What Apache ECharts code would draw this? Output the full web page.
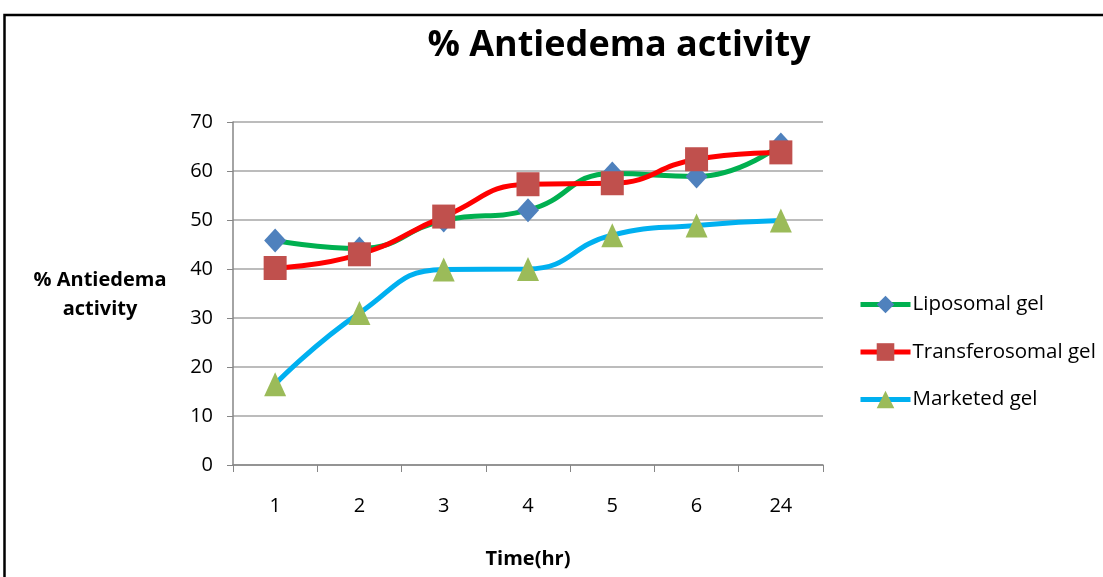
<!DOCTYPE html>
<html>
<head>
<meta charset="utf-8">
<script src="https://cdn.jsdelivr.net/npm/echarts@6/dist/echarts.min.js"></script>
<style>
  html, body { margin: 0; padding: 0; background: #fff; }
  #chart { width: 1103px; height: 577px; }
</style>
</head>
<body>
<div id="chart"></div>
<script>
// Time points (hours) and % antiedema activity for each gel formulation
const timeLabels = ['1', '2', '3', '4', '5', '6', '24'];
const liposomalGel = [45.8, 44.2, 49.9, 52.0, 59.5, 58.9, 65.4];
const transferosomalGel = [40.2, 43.0, 50.7, 57.3, 57.5, 62.4, 63.8];
const marketedGel = [16.5, 31.0, 39.9, 40.0, 46.9, 48.9, 49.9];
const yTicks = { min: 0, max: 70, interval: 10 };

const FONT = '"Open Sans", "DejaVu Sans", sans-serif';
const GRID_COLOR = '#a6a6a6';
const AXIS_COLOR = '#868686';

function lineSeries(name, data, lineColor, symbol, symbolColor, size) {
  return {
    name: name,
    type: 'line',
    data: data,
    smooth: 0.5,
    symbol: symbol,
    symbolSize: size,
    showAllSymbol: true,
    lineStyle: { color: lineColor, width: 5 },
    itemStyle: { color: symbolColor, borderWidth: 0 },
    emphasis: { disabled: true },
    animation: false
  };
}

const chart = echarts.init(document.getElementById('chart'), null, { renderer: 'canvas' });

chart.setOption({
  backgroundColor: '#ffffff',
  animation: false,
  grid: { left: 233, right: 280, top: 122, bottom: 112, containLabel: false },
  graphic: [
    {
      type: 'rect',
      shape: { x: 4.5, y: 15, width: 1110, height: 600 },
      style: { fill: 'none', stroke: '#000', lineWidth: 2.5 },
      silent: true
    },
    {
      type: 'text',
      x: 619, y: 46,
      style: {
        text: '% Antiedema activity',
        font: 'bold 36px ' + FONT,
        fill: '#000',
        align: 'center', verticalAlign: 'middle',
        textAlign: 'center', textVerticalAlign: 'middle'
      },
      silent: true
    },
    {
      type: 'text',
      x: 100, y: 295,
      style: {
        text: '% Antiedema\nactivity',
        font: 'bold 20px ' + FONT,
        lineHeight: 29,
        fill: '#000',
        align: 'center', verticalAlign: 'middle',
        textAlign: 'center', textVerticalAlign: 'middle'
      },
      silent: true
    }
  ],
  legend: {
    orient: 'vertical',
    left: 858,
    top: 294,
    padding: 0,
    itemWidth: 50,
    itemHeight: 22,
    itemGap: 26.5,
    selectedMode: false,
    lineStyle: { width: 5 },
    textStyle: { fontFamily: FONT, fontSize: 20.5, color: '#000', padding: [0, 0, 0, -3] },
    data: ['Liposomal gel', 'Transferosomal gel', 'Marketed gel']
  },
  xAxis: {
    type: 'category',
    data: timeLabels,
    boundaryGap: true,
    name: 'Time(hr)',
    nameLocation: 'middle',
    nameGap: 84,
    nameTextStyle: { fontFamily: FONT, fontSize: 20, fontWeight: 'bold', color: '#000' },
    axisLine: { show: true, lineStyle: { color: AXIS_COLOR, width: 1.5 } },
    axisTick: { show: true, length: 7, lineStyle: { color: AXIS_COLOR } },
    axisLabel: { fontFamily: FONT, fontSize: 20, color: '#000', margin: 31 },
    splitLine: { show: false }
  },
  yAxis: {
    type: 'value',
    min: yTicks.min,
    max: yTicks.max,
    interval: yTicks.interval,
    axisLine: { show: true, lineStyle: { color: AXIS_COLOR, width: 1.5 } },
    axisTick: { show: true, length: 6, lineStyle: { color: AXIS_COLOR } },
    axisLabel: { fontFamily: FONT, fontSize: 20, color: '#000', margin: 20 },
    splitLine: { show: true, lineStyle: { color: GRID_COLOR, width: 1.5 } }
  },
  series: [
    lineSeries('Liposomal gel', liposomalGel, '#00b050', 'diamond', '#4f81bd', [22, 24]),
    lineSeries('Transferosomal gel', transferosomalGel, '#ff0000', 'rect', '#c0504d', [23, 24]),
    lineSeries('Marketed gel', marketedGel, '#00b0f0', 'triangle', '#9bbb59', [22, 24])
  ]
});
</script>
</body>
</html>
